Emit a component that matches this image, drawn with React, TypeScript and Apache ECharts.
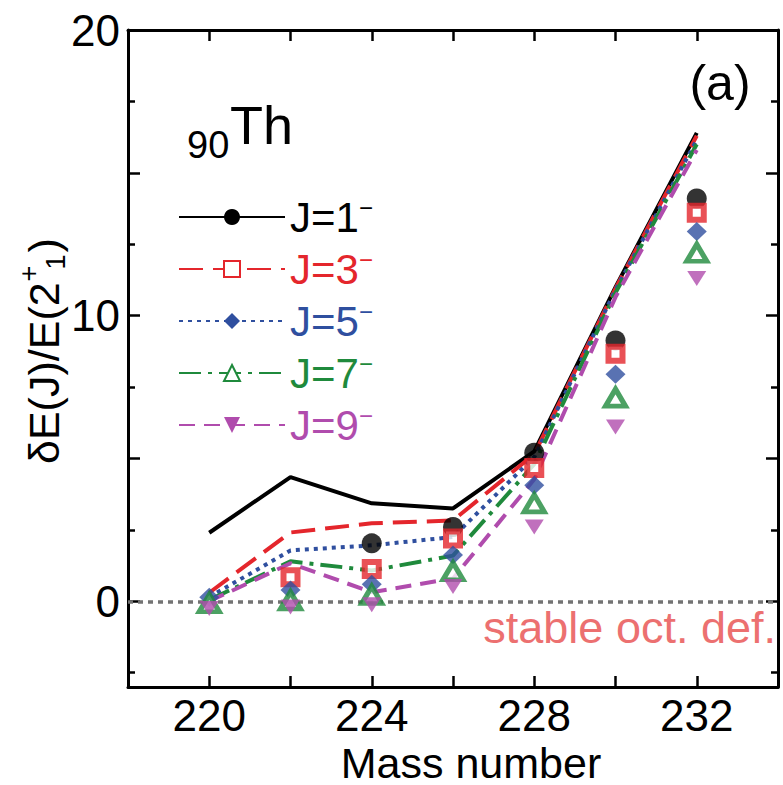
import React, { useEffect, useRef } from 'react';
import * as echarts from 'echarts';

// ---- data ----
const masses = [220, 222, 224, 226, 228, 230, 232];
const xTicks = [220, 222, 224, 226, 228, 230, 232];
const xLabels = [220, 224, 228, 232];
const yLabels = [0, 10, 20];
const yMajorTicks = [0, 5, 10, 15, 20];
const yMinorTicks = [-2.5, 2.5, 7.5, 12.5, 17.5];

const seriesNames = ['J=1', 'J=3', 'J=5', 'J=7', 'J=9'];

// theoretical curves (lines)
const calcJ1 = [2.4, 4.35, 3.43, 3.25, 5.25, 11.0, 16.4];
const calcJ3 = [0.3, 2.41, 2.73, 2.83, 5.15, 10.95, 16.3];
const calcJ5 = [0.15, 1.78, 1.96, 2.25, 5.05, 10.9, 16.15];
const calcJ7 = [0.05, 1.4, 1.08, 1.6, 4.8, 10.8, 16.0];
const calcJ9 = [0.0, 1.33, 0.32, 0.8, 4.27, 10.65, 15.8];

// experimental points (markers)
const expJ1 = [null, null, 2.03, 2.6, 5.2, 9.13, 14.1];
const expJ3 = [null, 0.84, 1.13, 2.2, 4.67, 8.67, 13.6];
const expJ5 = [0.14, 0.4, 0.6, 1.62, 4.06, 7.95, 12.95];
const expJ7 = [-0.07, 0.03, 0.22, 1.05, 3.43, 7.13, 12.2];
const expJ9 = [-0.25, -0.2, -0.12, 0.52, 2.6, 6.1, 11.3];

const calcAll = [calcJ1, calcJ3, calcJ5, calcJ7, calcJ9];
const expAll = [expJ1, expJ3, expJ5, expJ7, expJ9];

const colors = ['#000000', '#e4262c', '#2f4f9f', '#1f8a3c', '#b04cad'];
const dashes: any[] = ['solid', [24, 10], [4, 5], [22, 7, 4, 7], [16, 9]];
const legendSymbols = ['circle', 'emptyRect', 'diamond', 'emptyTriangle', 'triangle'];
const legendRotate = [0, 0, 0, 0, 180];

const FONT = '"Liberation Sans", Arial, Helvetica, sans-serif';

function measure(text: string, size: number): number {
  const c = document.createElement('canvas').getContext('2d');
  if (!c) return text.length * size * 0.55;
  c.font = `${size}px ${FONT}`;
  return c.measureText(text).width;
}

export default function App() {
  const ref = useRef<HTMLDivElement>(null);

  useEffect(() => {
    if (!ref.current) return;
    const chart = echarts.init(ref.current, null, { renderer: 'svg' });

    const lineSeries = calcAll.map((arr, i) => ({
      type: 'line',
      name: seriesNames[i],
      xAxisIndex: 0,
      yAxisIndex: 0,
      data: masses.map((m, k) => [m, arr[k]]),
      showSymbol: false,
      symbol: legendSymbols[i],
      symbolRotate: legendRotate[i],
      lineStyle: { color: colors[i], width: 4, type: dashes[i] },
      itemStyle: { color: colors[i] },
      z: 2,
      emphasis: { disabled: true },
      markLine:
        i === 0
          ? {
              silent: true,
              symbol: 'none',
              label: { show: false },
              lineStyle: { color: '#737373', width: 3.5, type: [5, 5] },
              data: [{ yAxis: 0 }],
            }
          : undefined,
    }));

    const markerStyles: any[] = [
      { symbol: 'circle', symbolSize: 20, itemStyle: { color: colors[0] } },
      { symbol: 'rect', symbolSize: 14, itemStyle: { color: '#ffffff', borderColor: colors[1], borderWidth: 6 } },
      { symbol: 'diamond', symbolSize: [20, 19], itemStyle: { color: colors[2] } },
      { symbol: 'triangle', symbolSize: [20, 17], itemStyle: { color: '#ffffff', borderColor: colors[3], borderWidth: 5 } },
      { symbol: 'triangle', symbolSize: [19, 15], symbolRotate: 180, itemStyle: { color: colors[4] } },
    ];

    const scatterSeries = expAll.map((arr, i) => ({
      type: 'scatter',
      name: seriesNames[i] + ' exp',
      xAxisIndex: 0,
      yAxisIndex: 0,
      data: masses.map((m, k) => [m, arr[k]]).filter((d) => d[1] !== null),
      z: 3 + i,
      emphasis: { disabled: true },
      ...markerStyles[i],
    }));

    // y-axis name pieces
    const yMain = 'δE(J)/E(2';
    const wMain = measure(yMain, 43);
    const yNameStart = 464;

    const rich: any = {};
    colors.forEach((c, i) => {
      rich['s' + i] = { fontSize: 24, lineHeight: 8, verticalAlign: 'top', color: c, fontFamily: FONT };
    });

    const axisLineStyle = { color: '#000', width: 3 };
    const tickStyle = { color: '#000', width: 2.5 };

    const txt = (text: string, x: number, y: number, size: number, fill: string, align = 'left') => ({
      type: 'text',
      style: {
        text, x, y, font: `${size}px ${FONT}`, fill,
        align, verticalAlign: 'middle', textAlign: align, textVerticalAlign: 'middle',
      },
    });

    const option: any = {
      animation: false,
      backgroundColor: '#ffffff',
      grid: { left: 128, right: 5, top: 30, bottom: 98, containLabel: false, outerBoundsMode: 'none' },
      xAxis: [
        {
          type: 'value',
          position: 'bottom',
          min: 218,
          max: 234,
          interval: 2,
          axisLine: { show: true, onZero: false, lineStyle: axisLineStyle },
          axisTick: { show: true, inside: true, length: 11, customValues: xTicks, lineStyle: tickStyle },
          axisLabel: { customValues: xLabels, fontSize: 44, color: '#000', fontFamily: FONT, margin: 6 },
          splitLine: { show: false },
          name: 'Mass number',
          nameLocation: 'middle',
          nameGap: 43,
          nameTextStyle: { fontSize: 43, lineHeight: 43, color: '#000', fontFamily: FONT, padding: [0, 0, 0, 36] },
        },
        {
          type: 'value',
          position: 'top',
          min: 218,
          max: 234,
          interval: 2,
          axisLine: { show: true, onZero: false, lineStyle: axisLineStyle },
          axisTick: { show: true, inside: true, length: 11, customValues: xTicks, lineStyle: tickStyle },
          axisLabel: { show: false },
          splitLine: { show: false },
        },
      ],
      yAxis: [
        {
          type: 'value',
          position: 'left',
          min: -3,
          max: 20,
          axisLine: { show: true, onZero: false, lineStyle: axisLineStyle },
          axisTick: { show: true, inside: true, length: 12, customValues: yMajorTicks, lineStyle: tickStyle },
          axisLabel: { customValues: yLabels, fontSize: 44, color: '#000', fontFamily: FONT, margin: 8 },
          splitLine: { show: false },
        },
        {
          type: 'value',
          position: 'left',
          min: -3,
          max: 20,
          axisLine: { show: false, onZero: false },
          axisTick: { show: true, inside: true, length: 7, customValues: yMinorTicks, lineStyle: tickStyle },
          axisLabel: { show: false },
          splitLine: { show: false },
        },
        {
          type: 'value',
          position: 'right',
          min: -3,
          max: 20,
          axisLine: { show: true, onZero: false, lineStyle: axisLineStyle },
          axisTick: { show: true, inside: true, length: 12, customValues: yMajorTicks, lineStyle: tickStyle },
          axisLabel: { show: false },
          splitLine: { show: false },
        },
        {
          type: 'value',
          position: 'right',
          min: -3,
          max: 20,
          axisLine: { show: false, onZero: false },
          axisTick: { show: true, inside: true, length: 7, customValues: yMinorTicks, lineStyle: tickStyle },
          axisLabel: { show: false },
          splitLine: { show: false },
        },
      ],
      legend: {
        show: true,
        orient: 'vertical',
        left: 173,
        top: 190,
        itemWidth: 106,
        itemHeight: 20,
        itemGap: 8,
        selectedMode: false,
        data: seriesNames.map((n, i) => ({ name: n, textStyle: { color: colors[i] } })),
        formatter: (name: string) => `${name}{s${seriesNames.indexOf(name)}|−}`,
        textStyle: { fontSize: 42, fontFamily: FONT, lineHeight: 44, rich },
      },
      graphic: [
        {
          type: 'group',
          x: 44,
          y: yNameStart,
          rotation: Math.PI / 2,
          children: [
            txt(yMain, 0, 0, 43, '#000'),
            txt('+', wMain + 1, -15, 27, '#000'),
            txt('1', wMain + 13, 12, 27, '#000'),
            txt(')', wMain + 30, 0, 43, '#000'),
          ],
        },
        txt('90', 187, 145, 38, '#000'),
        txt('Th', 230, 125, 54, '#000'),
        txt('(a)', 720, 83, 50, '#000', 'center'),
        txt('stable oct. def.', 776, 627, 45, '#ec7070', 'right'),
      ],
      series: [...lineSeries, ...scatterSeries],
    };

    chart.setOption(option);
    return () => chart.dispose();
  }, []);

  return (
    <div
      ref={ref}
      style={{ position: 'fixed', left: 0, top: 0, width: 783, height: 785, background: '#fff' }}
    />
  );
}
